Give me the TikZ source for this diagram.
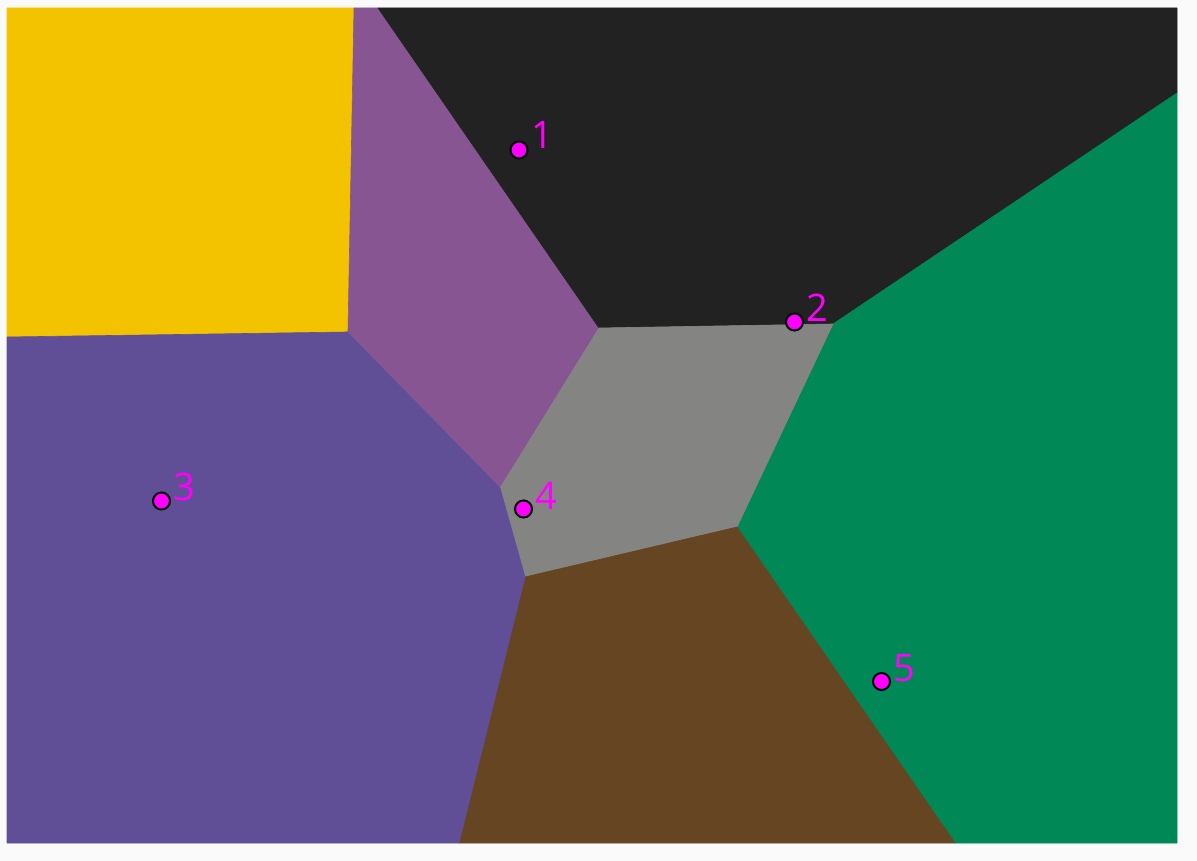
\documentclass[tikz,border=0pt]{standalone}
\usepackage{fontspec}
\setmainfont{Open Sans}
\definecolor{kyellow}{HTML}{F3C300}
\definecolor{kpurple}{HTML}{875692}
\definecolor{kblack}{HTML}{222222}
\definecolor{kgreen}{HTML}{008856}
\definecolor{kgray}{HTML}{848482}
\definecolor{kbrown}{HTML}{654522}
\definecolor{kviolet}{HTML}{604E97}
\definecolor{bg}{HTML}{FAFAFA}
\definecolor{mag}{HTML}{FF00FF}
\begin{document}
\begin{tikzpicture}[x=1pt,y=-1pt,
  cell/.style={fill=#1,draw=#1,line width=0.6pt,line join=round},
  site/.style={circle,fill=mag,draw=black,line width=2pt,minimum size=17pt,inner sep=0pt},
  lbl/.style={anchor=base west,inner sep=0pt,text=mag,font=\fontsize{38}{38}\selectfont}]
\fill[bg] (0,0) rectangle (1197,861);
\useasboundingbox (0,0) rectangle (1197,861);
\coordinate (tl) at (7,8);
\coordinate (tr) at (1177,8);
\coordinate (bl) at (7,843);
\coordinate (br) at (1177,843);
\coordinate (v1) at (354,8);
\coordinate (v2) at (378,8);
\coordinate (v3) at (347,332);
\coordinate (v4) at (7,337);
\coordinate (v5) at (599,328);
\coordinate (v6) at (833,324);
\coordinate (v7) at (1177,93);
\coordinate (v8) at (737,527);
\coordinate (v9) at (525,577);
\coordinate (v10) at (500,488);
\coordinate (v11) at (459,843);
\coordinate (v12) at (955,843);
\path[cell=kyellow] (tl) -- (v1) -- (348,331) -- (v3) -- (v4) -- cycle;
\path[cell=kpurple] (v1) -- (v2) -- (v5) -- (v10) -- (v3) -- (348,331) -- cycle;
\path[cell=kblack] (v2) -- (tr) -- (v7) -- (v6) -- (v5) -- cycle;
\path[cell=kgreen] (v7) -- (br) -- (v12) -- (v8) -- (v6) -- cycle;
\path[cell=kgray] (v5) -- (v6) -- (v8) -- (v9) -- (v10) -- cycle;
\path[cell=kbrown] (v9) -- (v8) -- (v12) -- (v11) -- cycle;
\path[cell=kviolet] (v4) -- (v3) -- (v10) -- (v9) -- (v11) -- (bl) -- cycle;
\node[site] (p1) at (519,150) {};
\node[site] (p2) at (794.5,322) {};
\node[site] (p3) at (161.5,501) {};
\node[site] (p4) at (523.5,509) {};
\node[site] (p5) at (881.5,681.5) {};
\node[lbl] (l1) at (531,149) {1};
\node[lbl] (l2) at (806,321.5) {2};
\node[lbl] (l3) at (173,500.5) {3};
\node[lbl] (l4) at (535,509) {4};
\node[lbl] (l5) at (893,681.5) {5};
\end{tikzpicture}
\end{document}
